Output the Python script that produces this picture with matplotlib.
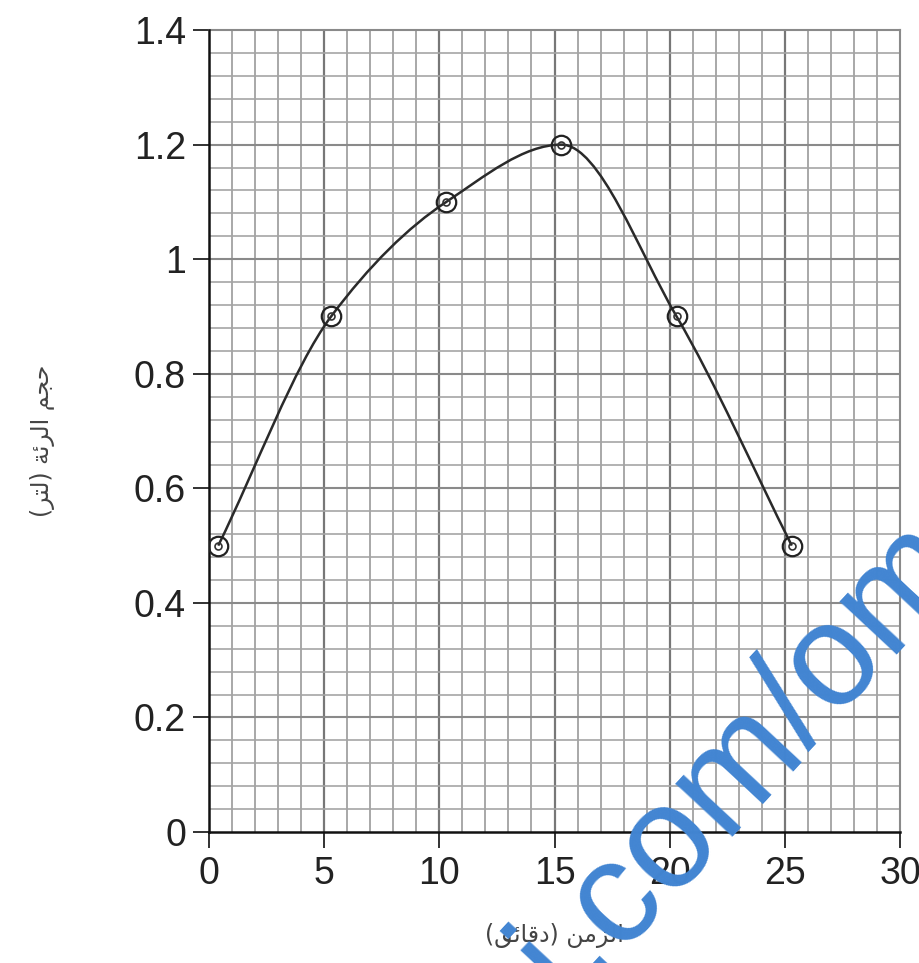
import matplotlib
matplotlib.use("Agg")
import matplotlib.pyplot as plt
import numpy as np
from matplotlib.path import Path
from matplotlib.patches import PathPatch

# data
time_min = [0.4, 5.3, 10.3, 15.3, 20.3, 25.3]
lung_volume = [0.5, 0.9, 1.1, 1.2, 0.9, 0.5]
x_ticks = [0, 5, 10, 15, 20, 25, 30]
y_ticks = [0, 0.2, 0.4, 0.6, 0.8, 1.0, 1.2, 1.4]
y_tick_labels = ["0", "0.2", "0.4", "0.6", "0.8", "1", "1.2", "1.4"]

# Arabic labels pre-shaped (presentation forms, visual order) since matplotlib has no RTL shaping
x_label = "(\uFED6\uFE8B\uFE8E\uFED7\uFEA9) \uFEE6\uFEE3\uFEB0\uFEDF\uFE8D"
y_label = "(\uFEAE\uFE98\uFEDF) \uFE94\uFE8B\uFEAE\uFEDF\uFE8D \uFEE2\uFEA0\uFEA3"

plt.rcParams["font.family"] = ["Liberation Sans", "DejaVu Sans"]

fig = plt.figure(figsize=(9.2, 9.63), dpi=100)
ax = fig.add_axes([0.2272, 0.136, 0.7511, 0.8328])
ax.set_xlim(0, 30)
ax.set_ylim(0, 1.4)

# graph-paper grid
for gx in np.arange(1, 30, 1):
    dark = gx % 5 == 0
    ax.axvline(gx, color="#777777" if dark else "#9a9a9a", lw=1.6 if dark else 1.2, zorder=1)
for gy in np.arange(0.04, 1.4, 0.04):
    dark = abs(gy / 0.2 - round(gy / 0.2)) < 1e-6
    ax.axhline(gy, color="#8a8a8a" if dark else "#a5a5a5", lw=1.5 if dark else 1.2, zorder=1)

for side in ("top", "right"):
    ax.spines[side].set_color("#8a8a8a")
    ax.spines[side].set_linewidth(1.5)
for side in ("left", "bottom"):
    ax.spines[side].set_color("#111111")
    ax.spines[side].set_linewidth(1.8)
    ax.spines[side].set_zorder(3)

ax.set_xticks(x_ticks)
ax.set_yticks(y_ticks)
ax.set_yticklabels(y_tick_labels)
ax.tick_params(axis="both", direction="out", length=11.5, width=1.3, colors="#222222",
               labelsize=27, labelcolor="#222222")
ax.tick_params(axis="y", pad=5)
ax.tick_params(axis="x", pad=6)

# smooth curve through the points: monotone (pchip-style) tangents drawn as cubic Bezier
x = np.asarray(time_min, dtype=float)
y = np.asarray(lung_volume, dtype=float)
h = np.diff(x)
d = np.diff(y) / h
m = np.zeros_like(y)
for i in range(1, len(x) - 1):
    if d[i - 1] * d[i] > 0:
        w1 = 2 * h[i] + h[i - 1]
        w2 = h[i] + 2 * h[i - 1]
        m[i] = (w1 + w2) / (w1 / d[i - 1] + w2 / d[i])
m[0] = d[0]
m[-1] = d[-1]
verts = [(x[0], y[0])]
codes = [Path.MOVETO]
for i in range(len(x) - 1):
    verts += [(x[i] + h[i] / 3, y[i] + m[i] * h[i] / 3),
              (x[i + 1] - h[i] / 3, y[i + 1] - m[i + 1] * h[i] / 3),
              (x[i + 1], y[i + 1])]
    codes += [Path.CURVE4] * 3
ax.add_patch(PathPatch(Path(verts, codes), facecolor="none", edgecolor="#2a2a2a", lw=1.8, zorder=4))

ax.plot(time_min, lung_volume, ls="none", marker="o", ms=14, mfc="none", mec="#222222", mew=1.6, zorder=5)
ax.plot(time_min, lung_volume, ls="none", marker="o", ms=5, mfc="none", mec="#333333", mew=1.2, zorder=5)

fig.text(0.603, 0.029, x_label, ha="center", va="center", fontsize=17, color="#444444",
         family=["DejaVu Sans"])
fig.text(0.046, 0.542, y_label, ha="center", va="center", rotation=90, fontsize=17,
         color="#444444", family=["DejaVu Sans"])

# watermark
wm_color = "#4285d2"
fig.text(0.878, 0.221, "almanahj.com", ha="right", va="baseline", rotation=47,
         rotation_mode="anchor", fontsize=105, color=wm_color, zorder=10)
fig.text(0.878, 0.221, "/om", ha="left", va="baseline", rotation=47,
         rotation_mode="anchor", fontsize=105, color=wm_color, zorder=10)

fig.savefig("out.png", dpi=100)
